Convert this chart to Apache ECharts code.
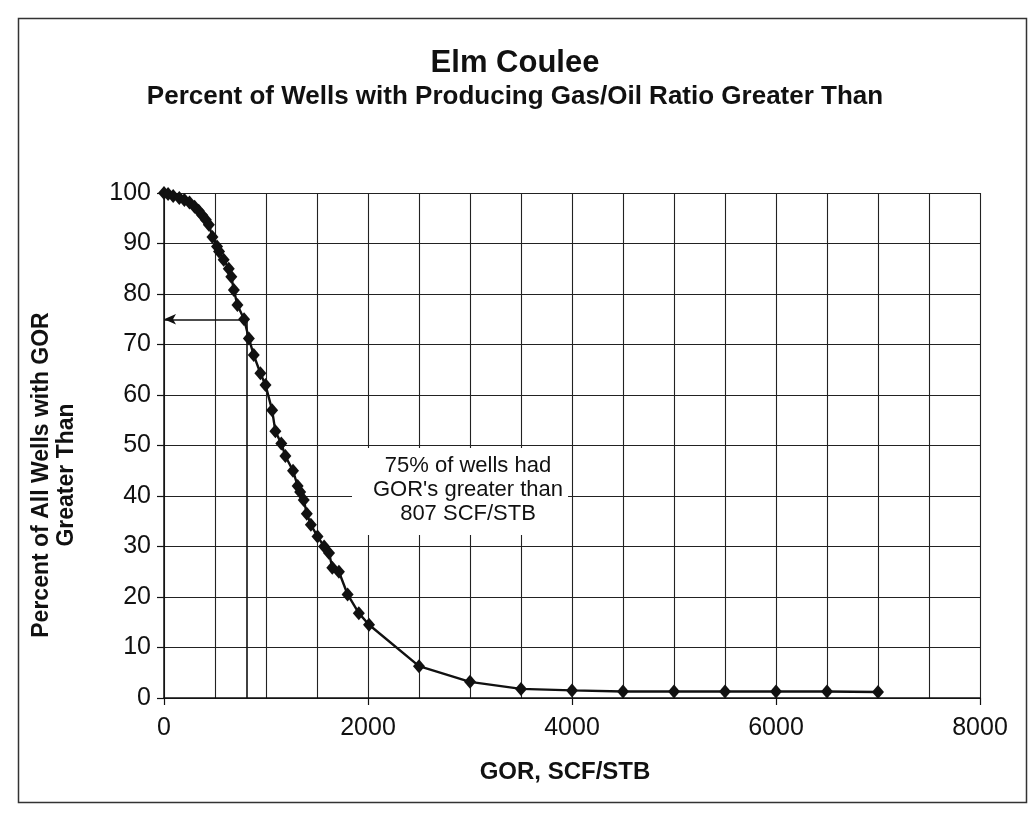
<!DOCTYPE html>
<html>
<head>
<meta charset="utf-8">
<script src="https://cdn.jsdelivr.net/npm/echarts@6/dist/echarts.min.js"></script>
<style>
  html, body { margin: 0; padding: 0; background: #fff; }
  #chart { width: 1030px; height: 829px; }
</style>
</head>
<body>
<div id="chart"></div>
<script>
// ---- data ----
const titleText = 'Elm Coulee';
const subtitleText = 'Percent of Wells with Producing Gas/Oil Ratio Greater Than';
const xAxisName = 'GOR, SCF/STB';
const yAxisName = 'Percent of All Wells with GOR\nGreater Than';
const noteText = "75% of wells had\nGOR's greater than\n807 SCF/STB";

const gorValues = [0, 40, 90, 150, 200, 250, 300, 340, 375, 410, 440, 475, 520, 540, 585, 635, 660, 685, 720, 785,
  832, 880, 945, 995, 1060, 1092, 1150, 1190, 1265, 1310, 1335, 1370, 1400, 1440, 1505, 1570, 1618, 1650, 1715, 1800,
  1910, 2010, 2500, 3000, 3500, 4000, 4500, 5000, 5500, 6000, 6500, 7000];
const pctValues = [100, 99.8, 99.4, 99, 98.6, 98.1, 97.3, 96.5, 95.6, 94.7, 93.7, 91.3, 89.4, 88.4, 86.8, 85, 83.4, 80.8, 77.8, 75,
  71.2, 67.9, 64.3, 62, 57, 52.8, 50.4, 47.9, 45, 42, 40.8, 39.2, 36.5, 34.3, 32, 30, 28.7, 25.8, 25, 20.5,
  16.8, 14.5, 6.3, 3.2, 1.8, 1.5, 1.3, 1.3, 1.3, 1.3, 1.3, 1.2];
const refGor = 807;
const refPct = 75;

const xMin = 0, xMax = 8000, xLabelStep = 2000, xGridSplits = 4;
const yMin = 0, yMax = 100, yStep = 10;

// ---- chart ----
const chart = echarts.init(document.getElementById('chart'));
const seriesData = gorValues.map((g, i) => [g, pctValues[i]]);
const sans = '"Liberation Sans", Arial, sans-serif';

chart.setOption({
  animation: false,
  backgroundColor: '#fff',
  title: [
    { text: titleText, left: 'center', top: 43, textStyle: { fontFamily: sans, fontSize: 31, fontWeight: 'bold', color: '#111' } },
    { text: subtitleText, left: 'center', top: 79, textStyle: { fontFamily: sans, fontSize: 26, fontWeight: 'bold', color: '#111' } }
  ],
  grid: { left: 164, right: 50, top: 193, bottom: 131, containLabel: false },
  xAxis: {
    type: 'value', min: xMin, max: xMax, interval: xLabelStep,
    name: xAxisName, nameLocation: 'middle', nameGap: 62,
    nameTextStyle: { fontFamily: sans, fontSize: 24, fontWeight: 'bold', color: '#111', padding: [0, 14, 0, 0] },
    axisLine: { show: true, lineStyle: { color: '#111', width: 1.5 } },
    axisTick: { show: true, length: 7, lineStyle: { color: '#111', width: 1.2 } },
    axisLabel: { fontFamily: sans, fontSize: 25, color: '#111', margin: 18, formatter: v => String(v) },
    splitLine: { show: true, lineStyle: { color: '#222', width: 1.1 } },
    minorTick: { show: false, splitNumber: xGridSplits },
    minorSplitLine: { show: true, lineStyle: { color: '#222', width: 1.1 } }
  },
  yAxis: {
    type: 'value', min: yMin, max: yMax, interval: yStep,
    axisLine: { show: true, lineStyle: { color: '#111', width: 1.5 } },
    axisTick: { show: true, length: 7, lineStyle: { color: '#111', width: 1.2 } },
    axisLabel: { fontFamily: sans, fontSize: 25, color: '#111', margin: 13, formatter: v => String(v) },
    splitLine: { show: true, lineStyle: { color: '#222', width: 1.1 } }
  },
  series: [{
    type: 'line',
    data: seriesData,
    symbol: 'diamond',
    symbolSize: [12, 14],
    itemStyle: { color: '#111' },
    lineStyle: { color: '#111', width: 2.4 },
    z: 5,
    markLine: {
      silent: true,
      animation: false,
      label: { show: false },
      lineStyle: { color: '#111', width: 1.6, type: 'solid' },
      data: [
        [{ coord: [refGor, 0], symbol: 'none' }, { coord: [refGor, refPct], symbol: 'none' }],
        [{ coord: [refGor, refPct], symbol: 'none' }, { coord: [0, refPct], symbol: 'arrow', symbolSize: [8, 12] }]
      ]
    }
  }],
  graphic: [
    { type: 'rect', left: 16, top: 16, shape: { width: 1008, height: 784 }, style: { fill: 'none', stroke: '#333', lineWidth: 1.5 }, z: 0, silent: true },
    { type: 'rect', left: 352, top: 448, shape: { width: 216, height: 87 }, style: { fill: '#fff' }, z: 3, silent: true },
    { type: 'text', x: 468, y: 490, style: { text: noteText, fontFamily: sans, fontSize: 22, fill: '#111', textAlign: 'center', textVerticalAlign: 'middle', lineHeight: 24 }, z: 4, silent: true },
    { type: 'text', x: 54, y: 475, rotation: Math.PI / 2, style: { text: yAxisName, fontFamily: sans, fontSize: 23, fontWeight: 'bold', fill: '#111', textAlign: 'center', textVerticalAlign: 'middle', lineHeight: 25 }, z: 4, silent: true }
  ]
});
</script>
</body>
</html>
